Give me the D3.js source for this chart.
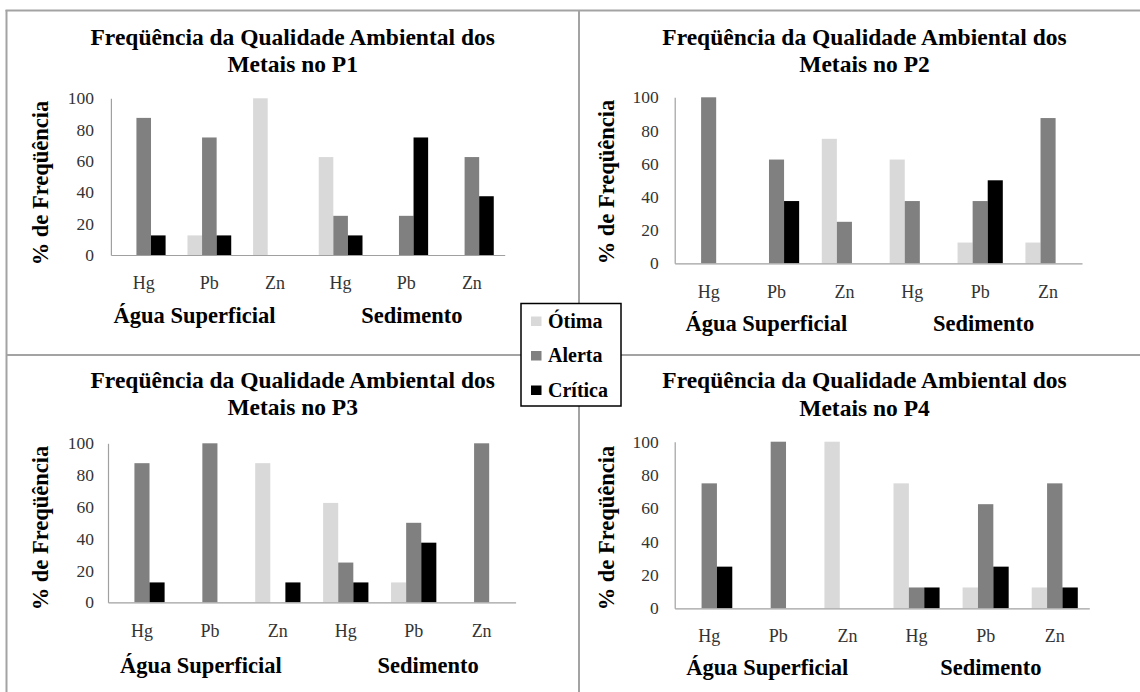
<!DOCTYPE html>
<html><head><meta charset="utf-8">
<script src="https://cdn.jsdelivr.net/npm/d3@7"></script>
<style>
html,body{margin:0;padding:0;background:#fff;}
svg{display:block;}
</style></head>
<body>
<svg id="chart" width="1140" height="692"></svg>
<script>
// ---- data ----
const categories = ["Hg","Pb","Zn","Hg","Pb","Zn"];
const groups = ["Água Superficial","Sedimento"];
const seriesNames = ["Ótima","Alerta","Crítica"];
const seriesColors = ["#d9d9d9","#808080","#000000"];
const yTicks = [0,20,40,60,80,100];
const panelTitles = ["Metais no P1","Metais no P2","Metais no P3","Metais no P4"];
const titleLine1 = "Freqüência da Qualidade Ambiental dos";
const yTitle = "% de Freqüência";

const p1Otima   = [0, 12.5, 100, 62.5, 0, 0];
const p1Alerta  = [87.5, 75, 0, 25, 25, 62.5];
const p1Critica = [12.5, 12.5, 0, 12.5, 75, 37.5];

const p2Otima   = [0, 0, 75, 62.5, 12.5, 12.5];
const p2Alerta  = [100, 62.5, 25, 37.5, 37.5, 87.5];
const p2Critica = [0, 37.5, 0, 0, 50, 0];

const p3Otima   = [0, 0, 87.5, 62.5, 12.5, 0];
const p3Alerta  = [87.5, 100, 0, 25, 50, 100];
const p3Critica = [12.5, 0, 12.5, 12.5, 37.5, 0];

const p4Otima   = [0, 0, 100, 75, 12.5, 12.5];
const p4Alerta  = [75, 100, 0, 12.5, 62.5, 75];
const p4Critica = [25, 0, 0, 12.5, 25, 12.5];

const panelData = [
  [p1Otima, p1Alerta, p1Critica],
  [p2Otima, p2Alerta, p2Critica],
  [p3Otima, p3Alerta, p3Critica],
  [p4Otima, p4Alerta, p4Critica]
];

// ---- layout ----
const FONT = '"Liberation Serif","Times New Roman",Tinos,serif';
const layouts = [
  {left:110.9, right:504.7, top:98.3, bottom:255, titleX:292.7, titleY:[45,72], catY:289, groupY:323, groupX:[194.5,411.8], yTitleX:40, yTitleY:183, pad:17},
  {left:674.7, right:1082, top:97.3, bottom:263.3, titleX:864.5, titleY:[45,72], catY:297.5, groupY:331, groupX:[766.4,983.6], yTitleX:606, yTitleY:182, pad:16},
  {left:108, right:515.6, top:443.3, bottom:602.3, titleX:292.7, titleY:[388,415], catY:637, groupY:673, groupX:[200.9,428.2], yTitleX:40, yTitleY:528, pad:14},
  {left:674.7, right:1089.3, top:441.7, bottom:608.3, titleX:864.5, titleY:[388,416], catY:642, groupY:675, groupX:[767.3,990.9], yTitleX:606, yTitleY:528, pad:16}
];

const svg = d3.select("#chart");

// frame lines
const frameColor = "#a3a3a3";
const frame = svg.append("g").attr("stroke", frameColor).attr("stroke-width", 2);
frame.append("line").attr("x1",5.5).attr("x2",1140).attr("y1",10.5).attr("y2",10.5);
frame.append("line").attr("x1",6.5).attr("x2",6.5).attr("y1",10).attr("y2",692);
frame.append("line").attr("x1",579).attr("x2",579).attr("y1",10).attr("y2",692);
frame.append("line").attr("x1",6).attr("x2",1140).attr("y1",355).attr("y2",355);

panelData.forEach((vals, pi) => {
  const L = layouts[pi];
  const g = svg.append("g");
  const idx = d3.range(categories.length);
  const x0 = d3.scaleBand().domain(idx).range([L.left, L.right]).paddingInner(0).paddingOuter(0);
  const bw = x0.bandwidth();
  const x1 = d3.scaleBand().domain(d3.range(seriesNames.length)).range([bw/6, bw*5/6]).padding(0);
  const y = d3.scaleLinear().domain([0,100]).range([L.bottom, L.top]);

  // bars
  seriesNames.forEach((s, si) => {
    g.append("g").attr("fill", seriesColors[si])
      .selectAll("rect").data(vals[si]).join("rect")
      .attr("x", (d,i) => x0(i) + x1(si))
      .attr("width", x1.bandwidth())
      .attr("y", d => y(d))
      .attr("height", d => y(0) - y(d));
  });

  // y axis
  const ya = g.append("g").attr("transform", `translate(${L.left},0)`)
    .call(d3.axisLeft(y).tickValues(yTicks).tickSize(0).tickPadding(L.pad).tickFormat(d3.format("d")));
  ya.select(".domain").attr("stroke", "#a0a0a0").attr("stroke-width", 1.2);
  ya.selectAll("text").attr("fill", "#333")
    .style("font-family", FONT).style("font-size", "17.5px");

  // x axis line
  const xa = g.append("g").attr("transform", `translate(0,${L.bottom})`)
    .call(d3.axisBottom(x0).tickSize(0).tickFormat(() => ""));
  xa.select(".domain").attr("stroke", "#a0a0a0").attr("stroke-width", 1.2);

  // category labels
  g.append("g").selectAll("text").data(categories).join("text")
    .attr("x", (d,i) => x0(i) + bw/2)
    .attr("y", L.catY)
    .attr("text-anchor", "middle")
    .attr("fill", "#333")
    .style("font-family", FONT).style("font-size", "18px")
    .text(d => d);

  // group labels
  g.append("g").selectAll("text").data(groups).join("text")
    .attr("x", (d,i) => L.groupX[i])
    .attr("y", L.groupY)
    .attr("text-anchor", "middle")
    .attr("fill", "#000")
    .style("font-family", FONT).style("font-size", "22.5px").style("font-weight", "bold")
    .text(d => d);

  // title
  const t = g.append("text").attr("text-anchor","middle").attr("fill","#000")
    .style("font-family", FONT).style("font-size", "23.5px").style("font-weight", "bold");
  t.append("tspan").attr("x", L.titleX).attr("y", L.titleY[0]).text(titleLine1);
  t.append("tspan").attr("x", L.titleX).attr("y", L.titleY[1]).text(panelTitles[pi]);

  // y title
  g.append("text")
    .attr("transform", `translate(${L.yTitleX},${L.yTitleY}) rotate(-90)`)
    .attr("text-anchor","middle")
    .attr("dy","0.35em")
    .attr("fill","#000")
    .style("font-family", FONT).style("font-size", "22.5px").style("font-weight", "bold")
    .text(yTitle);
});

// legend
const lg = svg.append("g");
lg.append("rect").attr("x",521).attr("y",303.5).attr("width",100).attr("height",102.5)
  .attr("fill","#fff").attr("stroke","#000").attr("stroke-width",1.5);
const legendY = d3.scalePoint().domain(seriesNames).range([321, 390]);
seriesNames.forEach((s, si) => {
  lg.append("rect").attr("x",531).attr("y",legendY(s)-4.5).attr("width",10.5).attr("height",9.5).attr("fill",seriesColors[si]);
  lg.append("text").attr("x",548).attr("y",legendY(s)).attr("dy","0.33em").attr("fill","#000")
    .style("font-family", FONT).style("font-size", "20px").style("font-weight", "bold").text(s);
});
</script>
</body></html>
